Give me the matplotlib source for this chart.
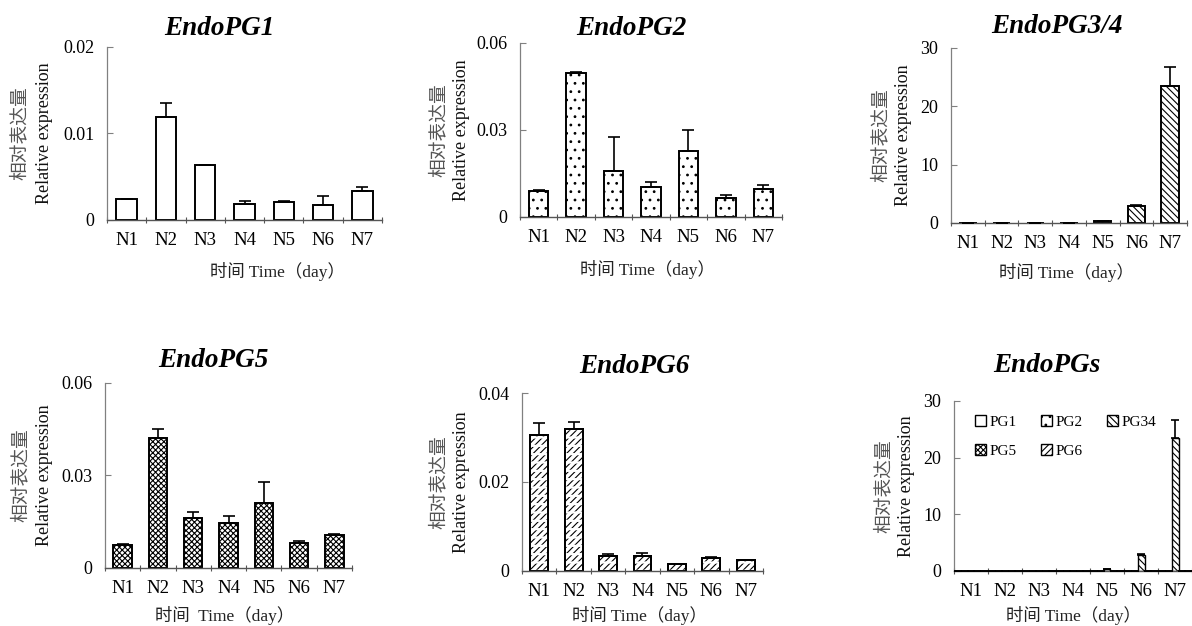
import numpy as np
import matplotlib
matplotlib.use('Agg')
import matplotlib.pyplot as plt

plt.rcParams['font.family'] = ['Liberation Serif', 'Noto Sans CJK SC']
plt.rcParams['hatch.linewidth'] = 0.8

days = ['N1', 'N2', 'N3', 'N4', 'N5', 'N6', 'N7']

pg1 = [0.00238, 0.01185, 0.00631, 0.00188, 0.00204, 0.00169, 0.00338]
pg1_err = [0.00005, 0.0017, 0.0001, 0.00035, 0.0001, 0.0011, 0.0004]

pg2 = [0.00905, 0.0496, 0.0160, 0.0102, 0.0228, 0.00664, 0.00973]
pg2_err = [0.0001, 0.0005, 0.0117, 0.0019, 0.0071, 0.0008, 0.0012]

pg34 = [0.05, 0.04, 0.05, 0.06, 0.30, 2.86, 23.5]
pg34_err = [0.005, 0.005, 0.005, 0.005, 0.03, 0.2, 3.2]

pg5 = [0.00754, 0.0422, 0.01637, 0.01443, 0.0212, 0.0081, 0.01077]
pg5_err = [0.0003, 0.0029, 0.0018, 0.0024, 0.0066, 0.0008, 0.0002]

pg6 = [0.0305, 0.0320, 0.00345, 0.0033, 0.00157, 0.0029, 0.0024]
pg6_err = [0.0028, 0.0015, 0.0003, 0.0008, 0.00005, 0.0003, 0.0001]

series_names = ['PG1', 'PG2', 'PG34', 'PG5', 'PG6']
hatches = ['', '..', '\\\\\\\\\\', 'xxxxxx', '/////']
# white horizontal breaks drawn over the hatch (only PG6 has a broken-stroke pattern)
hatch_breaks = [None, None, None, None, '--']

titles = ['EndoPG1', 'EndoPG2', 'EndoPG3/4', 'EndoPG5', 'EndoPG6', 'EndoPGs']
yticks = [[0, 0.01, 0.02], [0, 0.03, 0.06], [0, 10, 20, 30],
          [0, 0.03, 0.06], [0, 0.02, 0.04], [0, 10, 20, 30]]
ytick_labels = [['0', '0.01', '0.02'], ['0', '0.03', '0.06'], ['0', '10', '20', '30'],
                ['0', '0.03', '0.06'], ['0', '0.02', '0.04'], ['0', '10', '20', '30']]
xlabels = ['时间 Time（day）', '时间 Time（day）', '时间 Time（day）',
           '时间  Time（day）', '时间 Time（day）', '时间 Time（day）']
ylabel_cn = '相对表达量'
ylabel_en = 'Relative expression'

# layout: axes rect, title (x, y), xlabel (x, y), ylabel cn x, en x
layout = [
    dict(rect=[0.0898, 0.6486, 0.2307, 0.2764], tx=0.407, ty=1.069, xl=(0.62, -0.243), yc=-0.316, ye=-0.229),
    dict(rect=[0.4362, 0.6534, 0.2198, 0.2780], tx=0.427, ty=1.046, xl=(0.486, -0.247), yc=-0.309, ye=-0.225),
    dict(rect=[0.7978, 0.6438, 0.1980, 0.2796], tx=0.450, ty=1.086, xl=(0.49, -0.229), yc=-0.297, ye=-0.203),
    dict(rect=[0.0881, 0.0927, 0.2072, 0.2955], tx=0.440, ty=1.086, xl=(0.486, -0.205), yc=-0.340, ye=-0.243),
    dict(rect=[0.4379, 0.0879, 0.2022, 0.2843], tx=0.465, ty=1.112, xl=(0.486, -0.195), yc=-0.344, ye=-0.249),
    dict(rect=[0.8003, 0.0879, 0.2000, 0.2716], tx=0.39, ty=1.171, xl=(0.50, -0.204), yc=-0.293, ye=-0.198),
]

values = [pg1, pg2, pg34, pg5, pg6]
errors = [pg1_err, pg2_err, pg34_err, pg5_err, pg6_err]

fig = plt.figure(figsize=(11.92, 6.26), dpi=100)
x = np.arange(len(days))


def style_axes(ax, i):
    L = layout[i]
    ax.set_xlim(-0.5, len(days) - 0.5)
    ax.set_ylim(0, yticks[i][-1])
    ax.set_yticks(yticks[i])
    ax.set_yticklabels(ytick_labels[i])
    ax.set_xticks(x)
    ax.set_xticklabels(days)
    ax.set_xticks(np.arange(len(days) + 1) - 0.5, minor=True)
    ax.tick_params(axis='x', which='major', length=0, pad=9, labelsize=13.5)
    ax.tick_params(axis='x', which='minor', length=4, direction='inout', color='#555555', width=0.8)
    ax.tick_params(axis='y', direction='in', length=4, color='#808080', width=0.8, pad=9, labelsize=13)
    for s in ['top', 'right']:
        ax.spines[s].set_visible(False)
    ax.spines['left'].set_color('#808080')
    ax.spines['bottom'].set_color('#555555')
    ax.spines['left'].set_linewidth(0.9)
    ax.spines['bottom'].set_linewidth(1.0)
    ax.text(L['tx'], L['ty'], titles[i], transform=ax.transAxes, ha='center', va='baseline',
            fontsize=19.5, fontweight='bold', fontstyle='italic')
    ax.set_xlabel(xlabels[i], fontsize=12.5, color='#222222')
    ax.xaxis.set_label_coords(*L['xl'])
    ax.text(L['yc'], 0.5, ylabel_cn, transform=ax.transAxes, rotation=90, ha='center', va='center',
            fontsize=13.5, color='#555555')
    ax.text(L['ye'], 0.5, ylabel_en, transform=ax.transAxes, rotation=90, ha='center', va='center',
            fontsize=13, color='#111111')


def draw_bars(ax, pos, k, width, lw, cap):
    bars = ax.bar(pos, values[k], width=width, color='white', edgecolor='black', linewidth=lw,
                  hatch=hatches[k], label=series_names[k], zorder=2)
    if hatch_breaks[k]:
        with plt.rc_context({'hatch.linewidth': 1.6}):
            ax.bar(pos, values[k], width=width, fill=False, edgecolor='white', linewidth=0,
                   hatch=hatch_breaks[k], zorder=2.1)
        ax.bar(pos, values[k], width=width, fill=False, edgecolor='black', linewidth=lw, zorder=2.2)
    ax.errorbar(pos, values[k], yerr=[np.zeros(len(days)), errors[k]], fmt='none',
                ecolor='black', elinewidth=1.2, capsize=cap, capthick=1.2, zorder=3)
    return bars


for i in range(5):
    ax = fig.add_axes(layout[i]['rect'])
    draw_bars(ax, x, i, 0.52, 1.4, 4)
    style_axes(ax, i)

# combined panel
ax = fig.add_axes(layout[5]['rect'])
w = 0.19
handles = []
for k in range(5):
    handles.append(draw_bars(ax, x + (k - 2) * w, k, w, 1.0, 3))
style_axes(ax, 5)
order = [0, 3, 1, 4, 2]  # so that the 3-column legend reads row by row
ax.legend([handles[j] for j in order], [series_names[j] for j in order],
          loc='upper left', bbox_to_anchor=(0.03, 1.0), ncol=3, frameon=False,
          handlelength=0.75, handleheight=0.75, handletextpad=0.2, columnspacing=1.6,
          labelspacing=1.0, fontsize=11)

fig.savefig('out.png', dpi=100)
